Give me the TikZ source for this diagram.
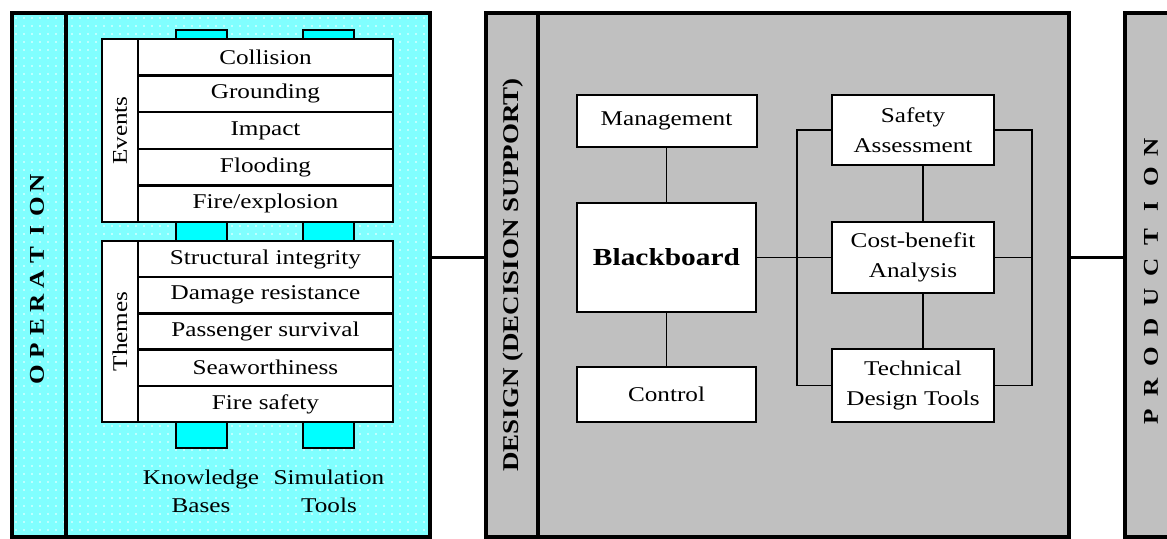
\documentclass[tikz,border=0pt]{standalone}
\usepackage{fontspec}
\setmainfont{Liberation Serif}[FakeStretch=1.2]
\usetikzlibrary{patterns}
\definecolor{cyanlt}{RGB}{128,255,255}
\definecolor{tabcyan}{RGB}{0,255,255}
\definecolor{panelgray}{RGB}{192,192,192}
% sparse white dots laid over the light cyan panel
\pgfdeclarepatternformonly{whitedots}{\pgfqpoint{-1pt}{-1pt}}{\pgfqpoint{1pt}{1pt}}{\pgfqpoint{8pt}{8pt}}%
  {\pgfpathcircle{\pgfqpoint{0pt}{0pt}}{0.8pt}\pgfusepath{fill}}
\newcommand\lsp[2]{\makebox[#1]{#2}}
\begin{document}
\begin{tikzpicture}[x=1pt,y=-1pt,
  panel/.style={draw, line width=3.5pt, inner sep=0pt, anchor=north west, minimum height=524pt},
  divider/.style={line width=4pt},
  link/.style={line width=3.5pt},
  row/.style={draw, fill=white, line width=2.4pt, minimum width=255pt, inner sep=0pt,
              font=\fontsize{21}{24}\selectfont},
  sidecol/.style={draw, fill=white, line width=2pt, minimum height=36pt, inner sep=0pt,
              rotate=90, font=\fontsize{21}{24}\selectfont},
  tabbox/.style={draw, fill=tabcyan, line width=1.5pt},
  dbox/.style={draw, fill=white, line width=2pt, inner sep=0pt, align=center,
              font=\fontsize{21}{30}\selectfont},
  conn/.style={line width=1.6pt},
  biglabel/.style={rotate=90, inner sep=0pt, font=\fontsize{21}{24}\bfseries\selectfont},
  caption/.style={align=center, inner sep=0pt, font=\fontsize{21}{28}\selectfont}
]
\useasboundingbox (0,0) rectangle (1167,538);
\clip (0,0) rectangle (1167,538);

% three stage panels
\node[panel, minimum width=418pt, preaction={fill=cyanlt}, pattern=whitedots, pattern color=white] (op) at (10,11) {};
\node[panel, minimum width=583pt, fill=panelgray] (des) at (484,11) {};
\node[panel, minimum width=70pt, fill=panelgray] (prod) at (1123,11) {};

\draw[divider] ([xshift=55.5pt]op.north west) -- ([xshift=55.5pt]op.south west);
\draw[divider] ([xshift=54pt]des.north west) -- ([xshift=54pt]des.south west);

% stage titles
\node[biglabel] (optitle) at (37,279) {\lsp{24pt}{O}\lsp{24pt}{P}\lsp{24pt}{E}\lsp{24pt}{R}\lsp{24pt}{A}\lsp{24pt}{T}\lsp{24pt}{I}\lsp{24pt}{O}\lsp{24pt}{N}};
\node[biglabel, font=\fontsize{22.5}{24}\bfseries\selectfont] (destitle) at (513,275) {DESIGN (DECISION SUPPORT)};
\node[biglabel] (prodtitle) at (1151,282) {\lsp{30pt}{P}\lsp{30pt}{R}\lsp{30pt}{O}\lsp{30pt}{D}\lsp{30pt}{U}\lsp{30pt}{C}\lsp{30pt}{T}\lsp{30pt}{I}\lsp{30pt}{O}\lsp{30pt}{N}};

% cyan tabs for knowledge bases and simulation tools
\foreach \tx in {176,303} {
  \draw[tabbox] (\tx,30) rectangle (\tx+51,45);
  \draw[tabbox] (\tx,216) rectangle (\tx+51,247);
  \draw[tabbox] (\tx,416) rectangle (\tx+51,448);
}

% events block
\node[sidecol, minimum width=183pt] (evcol) at (120,130.5) {Events};
\node[row, minimum height=36.6pt] (ev1) at (265.5,57.3) {Collision};
\node[row, minimum height=36.6pt] (ev2) at (265.5,93.9) {Grounding};
\node[row, minimum height=36.6pt] (ev3) at (265.5,130.5) {Impact};
\node[row, minimum height=36.6pt] (ev4) at (265.5,167.1) {Flooding};
\node[row, minimum height=36.6pt] (ev5) at (265.5,203.7) {Fire/explosion};

% themes block
\node[sidecol, minimum width=181pt] (thcol) at (120,331.5) {Themes};
\node[row, minimum height=36.2pt] (th1) at (265.5,259.1) {Structural integrity};
\node[row, minimum height=36.2pt] (th2) at (265.5,295.3) {Damage resistance};
\node[row, minimum height=36.2pt] (th3) at (265.5,331.5) {Passenger survival};
\node[row, minimum height=36.2pt] (th4) at (265.5,367.7) {Seaworthiness};
\node[row, minimum height=36.2pt] (th5) at (265.5,403.9) {Fire safety};

\node[caption] (kb) at (201,491) {Knowledge\\Bases};
\node[caption] (st) at (329,491) {Simulation\\Tools};

% decision support boxes
\node[dbox, minimum width=180pt, minimum height=52pt] (mgmt) at (666.5,121) {Management};
\node[dbox, minimum width=179pt, minimum height=109pt, font=\fontsize{24.5}{28}\bfseries\selectfont] (bb) at (666.5,257.5) {Blackboard};
\node[dbox, minimum width=179pt, minimum height=55pt] (ctrl) at (666.5,394.5) {Control};
\node[dbox, minimum width=162pt, minimum height=70pt] (sa) at (913,130) {Safety\\Assessment};
\node[dbox, minimum width=162pt, minimum height=71pt] (cb) at (913,257.5) {Cost-benefit\\Analysis};
\node[dbox, minimum width=162pt, minimum height=73pt] (tdt) at (913,385.5) {Technical\\Design Tools};

\coordinate (lb) at (797,0);
\coordinate (rb) at (1032,0);

\draw[conn] (mgmt) -- (bb);
\draw[conn] (bb) -- (ctrl);
\draw[conn] (bb.east) -- (cb.west);
\draw[conn] ([xshift=10pt]sa.south) -- ([xshift=10pt]cb.north);
\draw[conn] ([xshift=10pt]cb.south) -- ([xshift=10pt]tdt.north);
\draw[conn] (sa.west) -| (lb |- tdt.west) -- (tdt.west);
\draw[conn] (sa.east) -| (rb |- tdt.east) -- (tdt.east);
\draw[conn] (cb.east) -- (rb |- cb.east);

% links between the stages
\draw[link] (op.east |- bb.center) -- (des.west |- bb.center);
\draw[link] (des.east |- bb.center) -- (prod.west |- bb.center);
\end{tikzpicture}
\end{document}
